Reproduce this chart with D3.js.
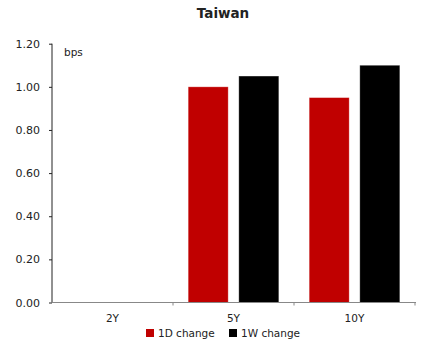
<!DOCTYPE html>
<html>
<head>
<meta charset="utf-8">
<script src="https://cdn.jsdelivr.net/npm/d3@7"></script>
<style>
  html, body { margin: 0; padding: 0; background: #fff; }
  svg { display: block; }
  text { font-family: "DejaVu Sans", sans-serif; fill: #222; }
</style>
</head>
<body>
<svg id="chart" width="429" height="340"></svg>
<script>
// Tenors on the x axis
const tenors = ["2Y", "5Y", "10Y"];
// Series names
const seriesNames = ["1D change", "1W change"];
// Yield changes in bps (2Y has no reading)
const change1D = [null, 1.00, 0.95];
const change1W = [null, 1.05, 1.10];
// Y axis tick values
const yTicks = [0, 0.2, 0.4, 0.6, 0.8, 1.0, 1.2];
const seriesColors = ["#C00000", "#000000"];

const svg = d3.select("#chart");
const plotLeft = 52, plotRight = 415, plotTop = 43.7, plotBottom = 302.5;

const x = d3.scaleBand().domain(tenors).range([plotLeft, plotRight]).padding(0);
const xInner = d3.scaleBand().domain(seriesNames).range([0, x.bandwidth()])
  .paddingInner(0.21).paddingOuter(0.30);
const y = d3.scaleLinear().domain([0, 1.2]).range([plotBottom, plotTop]);
const color = d3.scaleOrdinal().domain(seriesNames).range(seriesColors);

// Title
svg.append("text")
  .attr("x", 223).attr("y", 18)
  .attr("text-anchor", "middle")
  .style("font-weight", "bold")
  .style("font-size", "13.5px")
  .text("Taiwan");

// Bars
const seriesValues = [change1D, change1W];
const rows = [];
tenors.forEach((t, i) => {
  seriesNames.forEach((s, j) => {
    const v = seriesValues[j][i];
    if (v != null) rows.push({ tenor: t, series: s, value: v });
  });
});
svg.append("g").selectAll("rect")
  .data(rows)
  .join("rect")
  .attr("x", d => x(d.tenor) + xInner(d.series))
  .attr("width", xInner.bandwidth())
  .attr("y", d => y(d.value))
  .attr("height", d => y(0) - y(d.value))
  .attr("fill", d => color(d.series))
  .attr("stroke", "#fff")
  .attr("stroke-opacity", 0.35)
  .attr("stroke-width", 0.8);

// Y axis
const yAxis = svg.append("g")
  .attr("transform", `translate(${plotLeft},0)`)
  .call(d3.axisLeft(y).tickValues(yTicks).tickFormat(d3.format(".2f"))
    .tickSize(3).tickPadding(9));
yAxis.select(".domain").attr("stroke", "#222").attr("d", `M0,${plotTop}V${plotBottom}`);
yAxis.selectAll(".tick line").attr("stroke", "#222");
yAxis.selectAll(".tick text").style("font-size", "11px").style("font-family", "DejaVu Sans, sans-serif").attr("fill", "#222");

// X axis: ticks on band boundaries, labels centred in bands
const xAxisG = svg.append("g").attr("transform", `translate(0,${plotBottom})`);
xAxisG.append("line")
  .attr("x1", plotLeft).attr("x2", plotRight + 1)
  .attr("stroke", "#888").attr("stroke-width", 1);
const boundaries = tenors.map(t => x(t)).concat([x(tenors[tenors.length - 1]) + x.bandwidth()]);
xAxisG.selectAll("line.tk")
  .data(boundaries.slice(1))
  .join("line")
  .attr("class", "tk")
  .attr("x1", d => d).attr("x2", d => d)
  .attr("y1", 0).attr("y2", 3)
  .attr("stroke", "#888");
xAxisG.selectAll("text")
  .data(tenors)
  .join("text")
  .attr("x", d => x(d) + x.bandwidth() / 2)
  .attr("y", 19.5)
  .attr("text-anchor", "middle")
  .style("font-size", "10.5px")
  .text(d => d);

// Unit label
svg.append("text")
  .attr("x", 64).attr("y", 55.5)
  .style("font-size", "10.5px")
  .text("bps");

// Legend
const legendX = [146, 229];
const legend = svg.append("g").selectAll("g")
  .data(seriesNames)
  .join("g")
  .attr("transform", (d, i) => `translate(${legendX[i]},329)`);
legend.append("rect")
  .attr("width", 8).attr("height", 8)
  .attr("fill", d => color(d));
legend.append("text")
  .attr("x", 12).attr("y", 7.5)
  .style("font-size", "10.5px")
  .text(d => d);
</script>
</body>
</html>
